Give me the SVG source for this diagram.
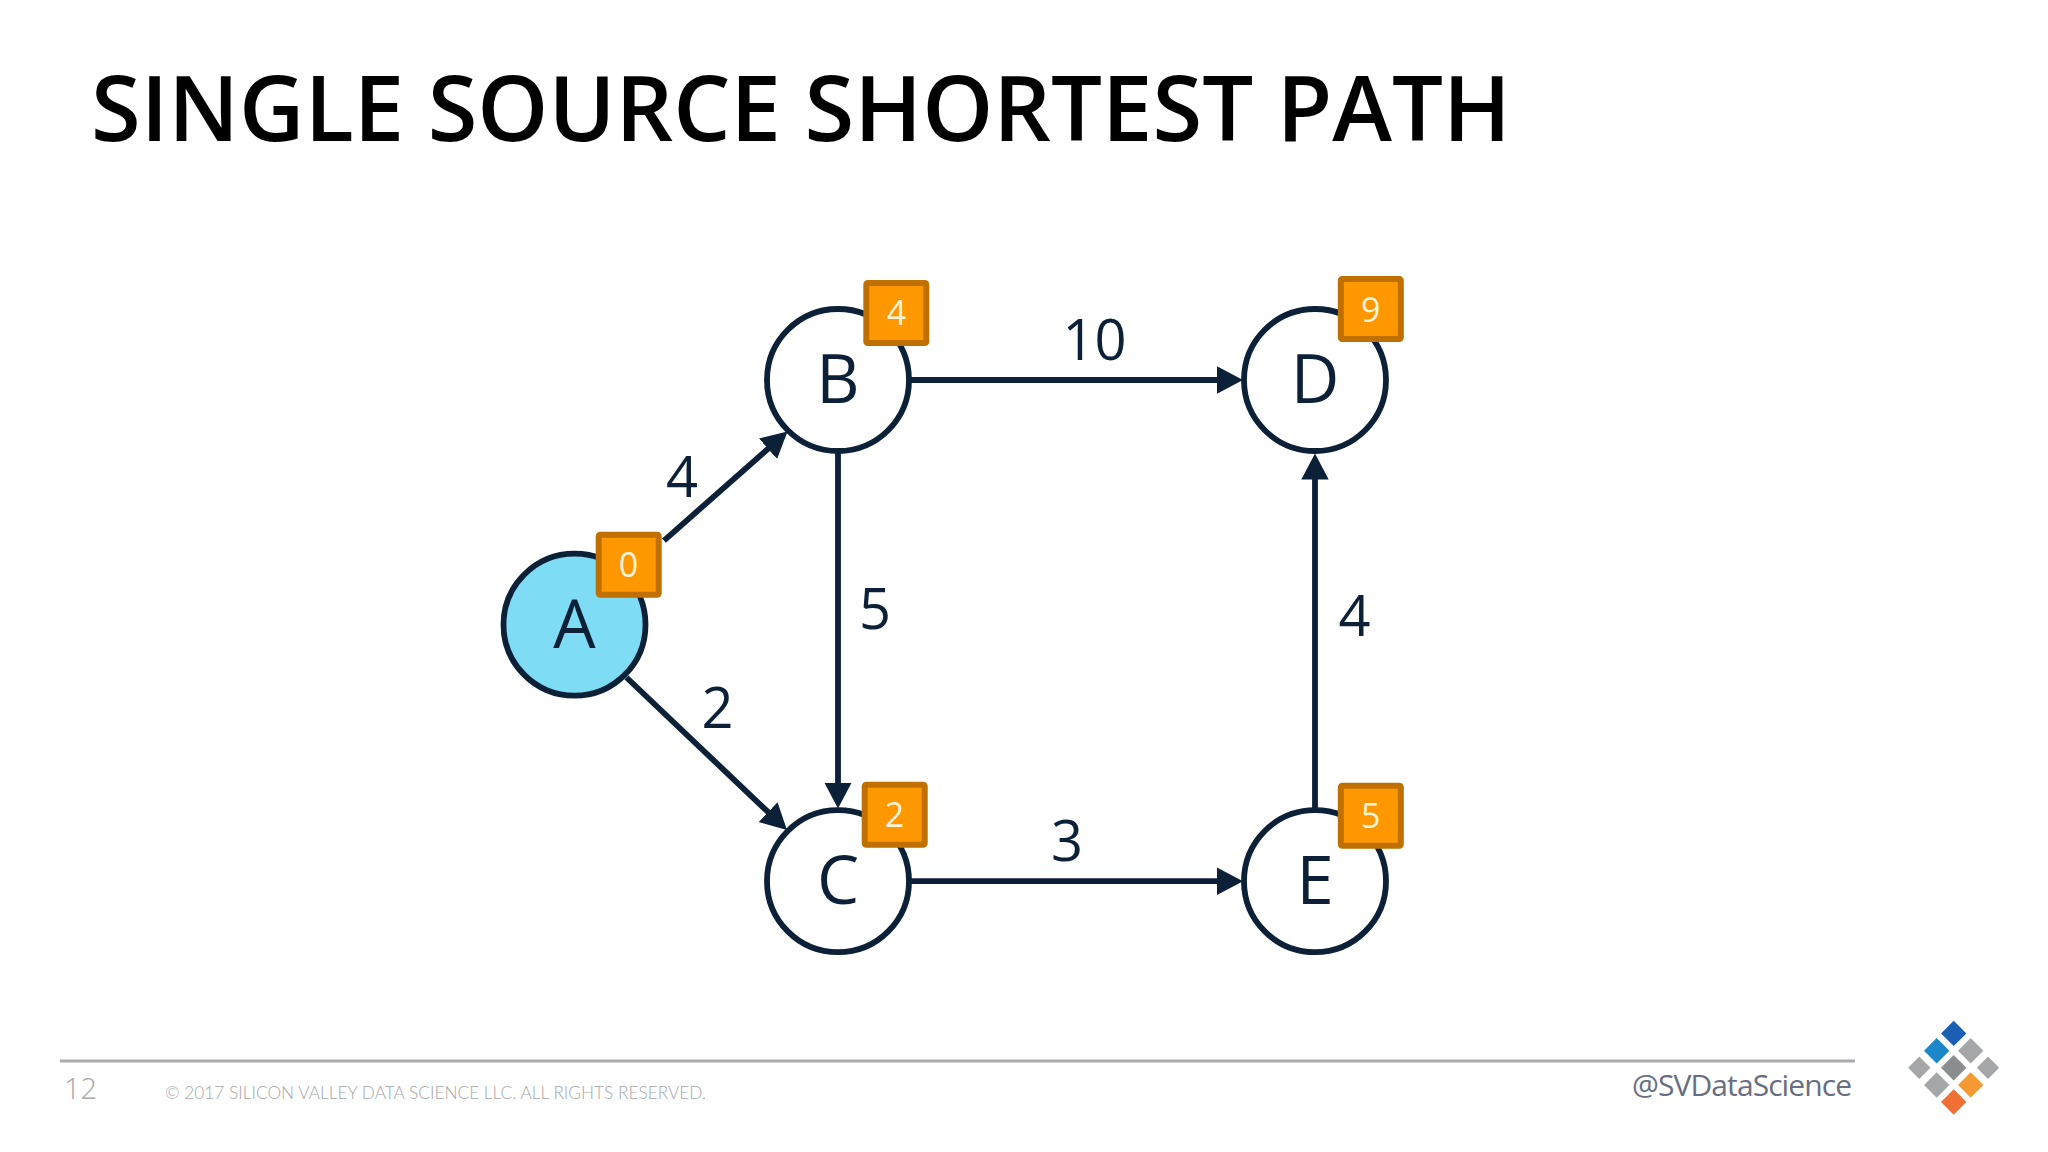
<svg xmlns="http://www.w3.org/2000/svg" width="2048" height="1152" viewBox="0 0 2048 1152">
<style>
text{font-family:"Open Sans","Noto Sans","Liberation Sans",sans-serif}
.title{font-size:90px;font-weight:600;fill:#000}
.n{fill:#fff;stroke:#0c2037;stroke-width:5.8}
.nt{font-size:67px;fill:#0c2037;text-anchor:middle}
.b{fill:#ff9800;stroke:#bf7000;stroke-width:6}
.bt{font-size:34px;fill:#fff3d9;text-anchor:middle}
.e{stroke:#0c2037;stroke-width:5.8;fill:none;marker-end:url(#arrow)}
.w{font-size:56px;fill:#0c2037;text-anchor:middle}
.g{fill:#a5a6a8}
</style>
<defs><marker id="arrow" markerUnits="userSpaceOnUse" markerWidth="28" markerHeight="28" viewBox="0 0 28 28" refX="20" refY="14" orient="auto"><path d="M0,0.3L26,14L0,27.7Z" fill="#0c2037"/></marker></defs>
<rect width="2048" height="1152" fill="#fff"/>
<text class="title" x="91" y="141" textLength="1420" lengthAdjust="spacingAndGlyphs">SINGLE SOURCE SHORTEST PATH</text>
<g id="node-A"><circle class="n" style="fill:#7edcf5" cx="574.5" cy="624.7" r="71"/><text class="nt" x="574.5" y="648">A</text><rect class="b" x="598.7" y="534.7" width="60" height="60" rx="1.5"/><text class="bt" x="628.5" y="576.5">0</text></g>
<g id="node-B"><circle class="n" cx="838" cy="380" r="71"/><text class="nt" x="838" y="403">B</text><rect class="b" x="866.3" y="283" width="60" height="60" rx="1.5"/><text class="bt" x="896.5" y="325">4</text></g>
<g id="node-C"><circle class="n" cx="838" cy="881.2" r="71"/><text class="nt" x="838" y="904">C</text><rect class="b" x="864.7" y="784.7" width="60" height="60" rx="1.5"/><text class="bt" x="894.5" y="826.7">2</text></g>
<g id="node-D"><circle class="n" cx="1315" cy="380" r="71"/><text class="nt" x="1315" y="403">D</text><rect class="b" x="1340.8" y="279" width="60" height="60" rx="1.5"/><text class="bt" x="1370.8" y="321.7">9</text></g>
<g id="node-E"><circle class="n" cx="1315" cy="881.2" r="71"/><text class="nt" x="1315" y="904">E</text><rect class="b" x="1340.8" y="785.7" width="60" height="60" rx="1.5"/><text class="bt" x="1370.8" y="828">5</text></g>
<g id="connectors">
<line class="e" x1="664" y1="540.6" x2="783" y2="435.5"/>
<line class="e" x1="626.5" y1="677.5" x2="782.6" y2="825.9"/>
<line class="e" x1="838" y1="453" x2="838" y2="802.5"/>
<line class="e" x1="911" y1="380" x2="1237" y2="380"/>
<line class="e" x1="911" y1="881.2" x2="1237" y2="881.2"/>
<line class="e" x1="1315" y1="809" x2="1315" y2="459.5"/>
<text class="w" x="682" y="497">4</text>
<text class="w" x="717.5" y="728">2</text>
<text class="w" x="875" y="629">5</text>
<text class="w" x="1094.5" y="360">10</text>
<text class="w" x="1067" y="860.5">3</text>
<text class="w" x="1354.5" y="636">4</text>
</g>
<line x1="60" y1="1061" x2="1855" y2="1061" stroke="#a9abae" stroke-width="3"/>
<text x="64" y="1099" font-size="29" font-weight="300" fill="#a5a7aa">12</text>
<text x="165" y="1099" font-size="18" font-weight="300" fill="#a5a7a8" textLength="541" lengthAdjust="spacingAndGlyphs" style="font-family:Lato,sans-serif">© 2017 SILICON VALLEY DATA SCIENCE LLC. ALL RIGHTS RESERVED.</text>
<text x="1632" y="1096" font-size="30" fill="#686e82" textLength="220">@SVDataScience</text>
<g id="logo">
<path fill="#1a5fb4" d="M1953.7,1020.7l12.7,12.7l-12.7,12.7l-12.7,-12.7Z"/>
<path fill="#1b87c9" d="M1936.7,1038l12.7,12.7l-12.7,12.7l-12.7,-12.7Z"/>
<path class="g" d="M1970.7,1038l12.7,12.7l-12.7,12.7l-12.7,-12.7Z"/>
<path class="g" d="M1919.3,1056.5l11.2,11.2l-11.2,11.2l-11.2,-11.2Z"/>
<path fill="#8b8e8e" d="M1953.7,1055l12.7,12.7l-12.7,12.7l-12.7,-12.7Z"/>
<path class="g" d="M1988,1056.5l11.2,11.2l-11.2,11.2l-11.2,-11.2Z"/>
<path class="g" d="M1936.7,1072.3l12.7,12.7l-12.7,12.7l-12.7,-12.7Z"/>
<path fill="#f59a32" d="M1970.7,1072.3l12.7,12.7l-12.7,12.7l-12.7,-12.7Z"/>
<path fill="#ef7034" d="M1953.7,1089.3l12.7,12.7l-12.7,12.7l-12.7,-12.7Z"/>
</g>
</svg>
